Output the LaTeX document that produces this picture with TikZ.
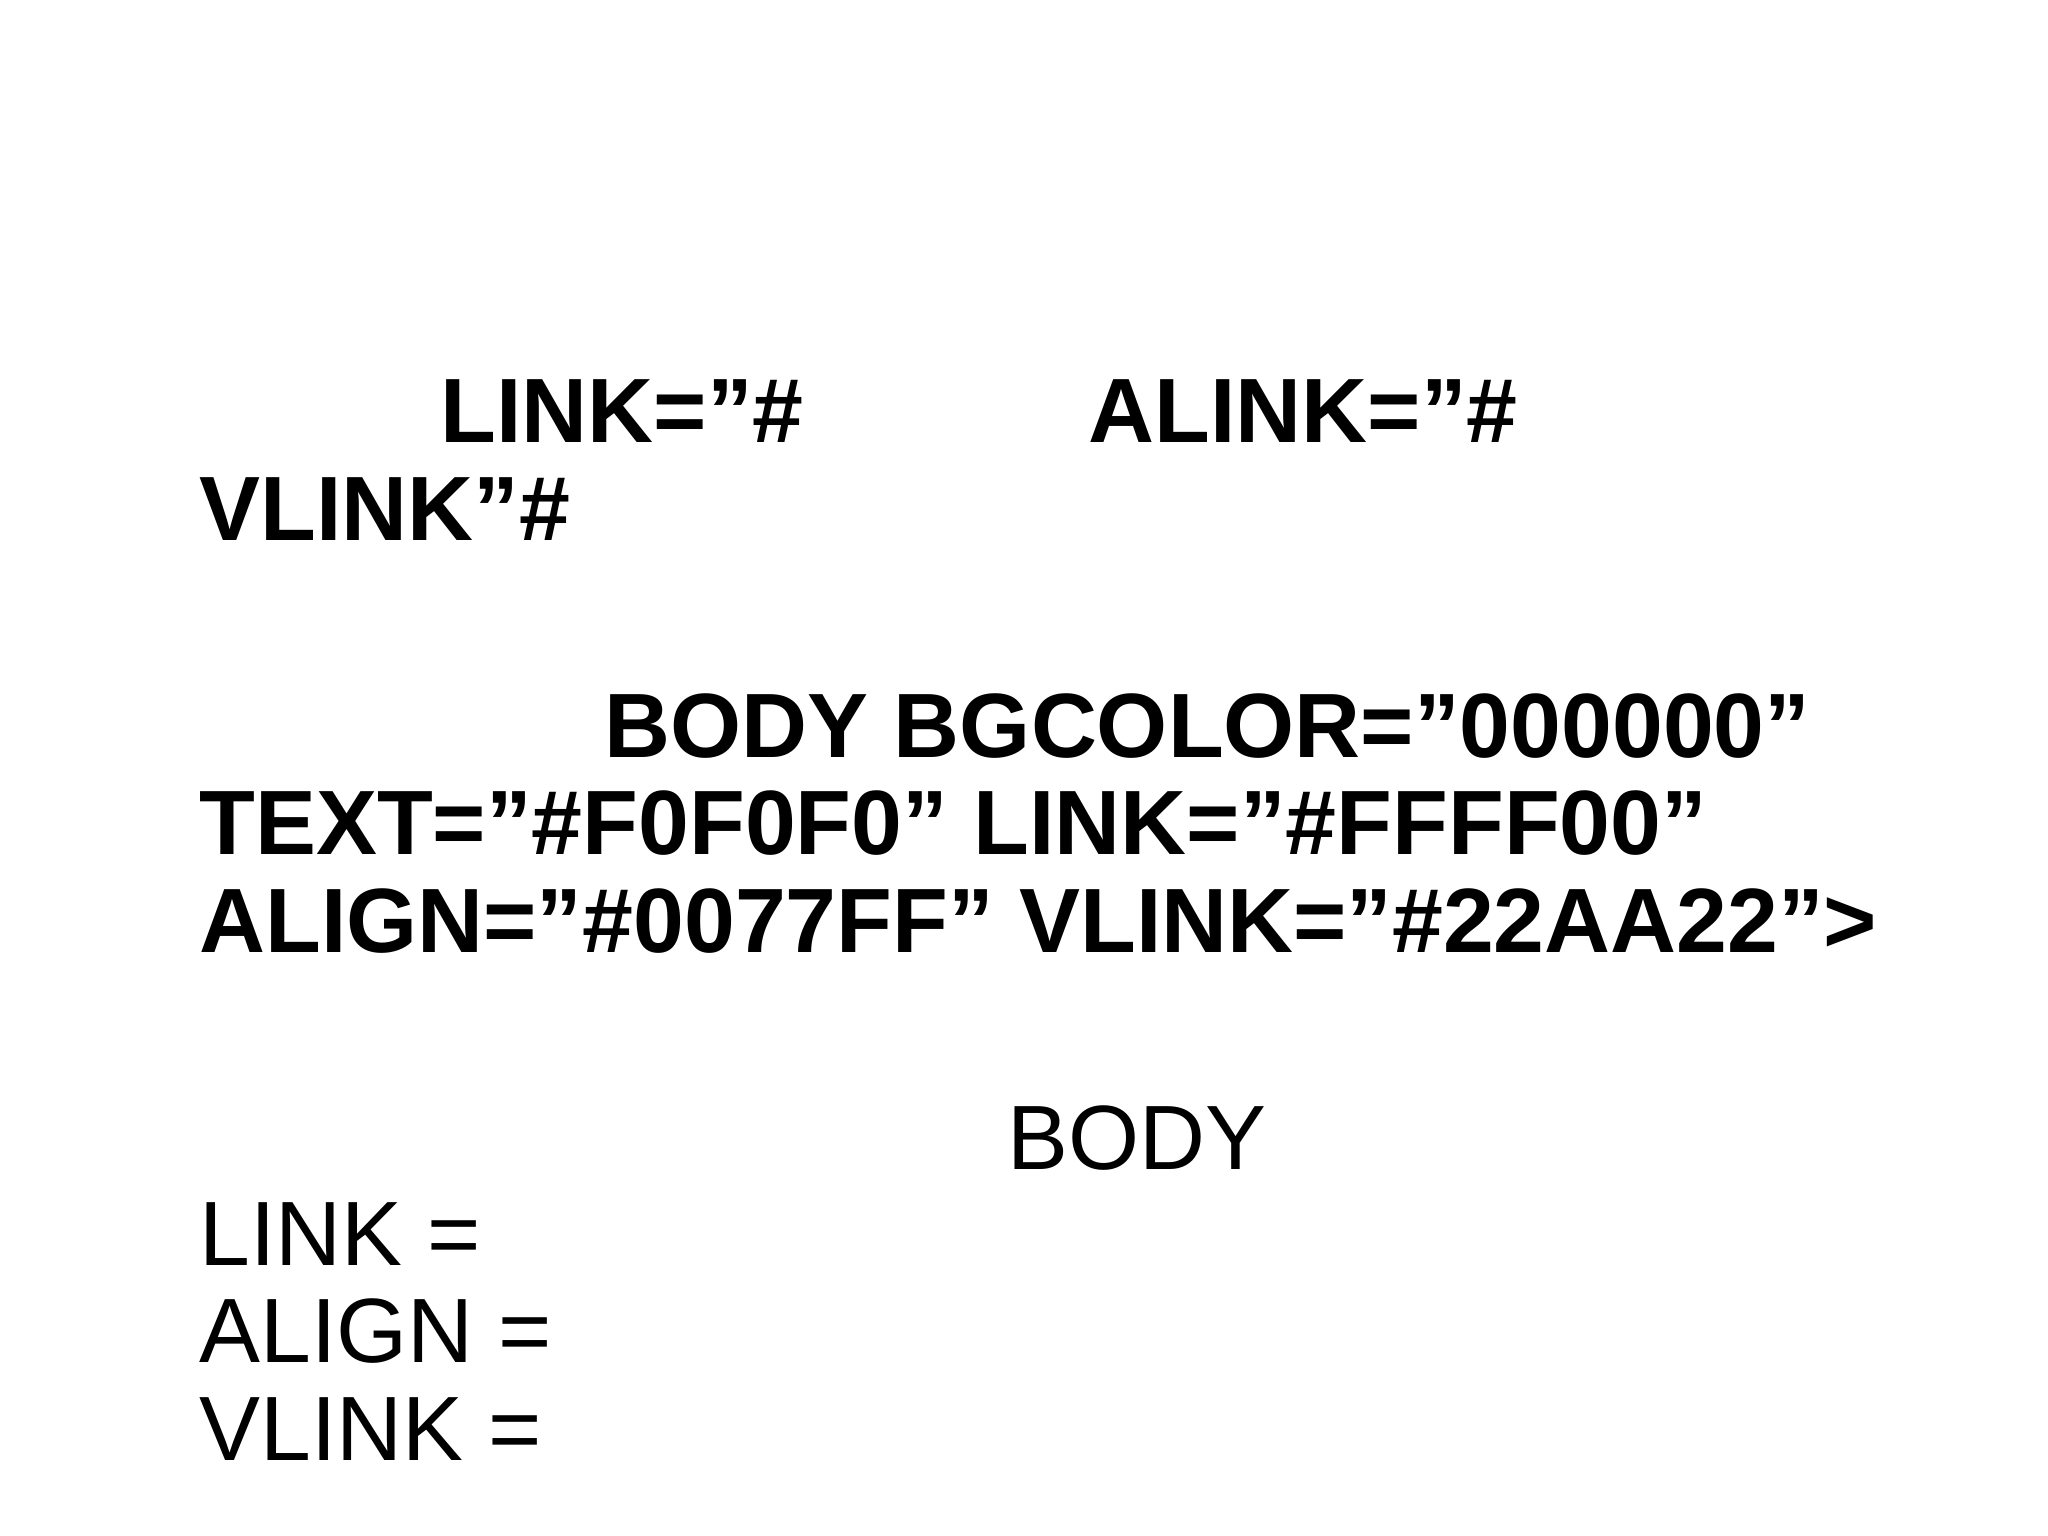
\documentclass[tikz,border=0pt]{standalone}
\usepackage{fontspec}
\setmainfont{Liberation Sans}
\newcommand\qq{\symbol{34}}
\begin{document}
\begin{tikzpicture}[x=0.013333cm,y=-0.013333cm,
  txt/.style={anchor=base west,inner sep=0pt,font=\fontsize{26}{31}\selectfont},
  btxt/.style={txt,font=\fontsize{26}{31}\selectfont\bfseries}]
\useasboundingbox (0,0) rectangle (1536,1152);
\node[btxt] (a) at (330,332) {LINK=\qq\#};
\node[btxt] (b) at (816,332) {ALINK=\qq\#};
\node[btxt] (c) at (149,405) {VLINK\qq\#};
\node[btxt] (d) at (453,568) {BODY BGCOLOR=\qq000000\qq};
\node[btxt] (e) at (149,641) {TEXT=\qq\#F0F0F0\qq{} LINK=\qq\#FFFF00\qq};
\node[btxt] (f) at (149,714) {ALIGN=\qq\#0077FF\qq{} VLINK=\qq\#22AA22\qq>};
\node[txt] (g) at (755,877) {BODY};
\node[txt] (h) at (149,949) {LINK =};
\node[txt] (i) at (149,1022) {ALIGN =};
\node[txt] (j) at (149,1095) {VLINK =};
\end{tikzpicture}
\end{document}
